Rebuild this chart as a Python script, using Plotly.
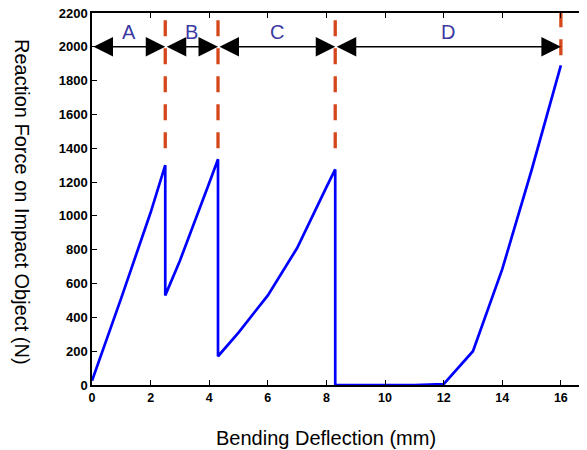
import plotly.graph_objects as go

# Force-deflection curve (mm, N)
deflection = [0, 1, 2, 2.5, 2.5, 3, 4, 4.3, 4.3, 5, 6, 7, 8, 8.3, 8.3, 9, 10, 11, 12, 13, 14, 15, 16]
force = [25, 515, 1020, 1300, 530, 735, 1195, 1335, 170, 310, 530, 810, 1170, 1275, 0, 0, 0, 0, 5, 200, 685, 1270, 1890]

# Stage boundaries, stage labels
bounds = [0, 2.5, 4.3, 8.3, 16]
stage_labels = ["A", "B", "C", "D"]
dash_x = [2.5, 4.3, 8.3, 16]
dash_bottom = [1400, 1400, 1400, 1950]
dash_top = 2200
arrow_y = 2000
label_y = 2085

x_ticks = [0, 2, 4, 6, 8, 10, 12, 14, 16]
y_ticks = list(range(0, 2201, 200))

x_title = "Bending Deflection (mm)"
y_title = "Reaction Force on Impact Object (N)"

FONT = "Liberation Sans, Arial, sans-serif"
RED = "#d5461a"
LABEL_COLOR = "#3a3aa2"

fig = go.Figure()

for xv, yb in zip(dash_x, dash_bottom):
    fig.add_trace(go.Scatter(
        x=[xv, xv], y=[yb, dash_top], mode="lines",
        line=dict(color=RED, width=3.3, dash="16px,12px"),
        showlegend=False, hoverinfo="skip"))

fig.add_trace(go.Scatter(
    x=deflection, y=force, mode="lines",
    line=dict(color="#0000ff", width=2.7),
    showlegend=False))

annotations = []
for i, lab in enumerate(stage_labels):
    x0, x1 = bounds[i], bounds[i + 1]
    annotations.append(dict(
        x=x1, y=arrow_y, ax=x0, ay=arrow_y,
        xref="x", yref="y", axref="x", ayref="y",
        text="", showarrow=True, arrowside="end+start",
        arrowhead=2, startarrowhead=2, arrowsize=2.6, startarrowsize=2.6,
        arrowwidth=1.5, arrowcolor="black", standoff=0, startstandoff=0))
    annotations.append(dict(
        x=(x0 + x1) / 2, y=label_y, xref="x", yref="y",
        text=lab, showarrow=False,
        font=dict(family=FONT, size=20, color=LABEL_COLOR)))

annotations.append(dict(
    x=0.4708, y=-0.1425, xref="paper", yref="paper",
    xanchor="center", yanchor="middle", text=x_title, showarrow=False,
    font=dict(family=FONT, size=20, color="black")))
annotations.append(dict(
    x=-0.1408, y=0.492, xref="paper", yref="paper",
    xanchor="center", yanchor="middle", text=y_title, showarrow=False,
    textangle=90, font=dict(family=FONT, size=20, color="black")))

fig.update_layout(
    width=581, height=442,
    margin=dict(l=84, r=0, t=5, b=65),
    paper_bgcolor="white", plot_bgcolor="white",
    font=dict(family=FONT, color="black"),
    annotations=annotations,
    xaxis=dict(
        range=[0, 16.96], tickvals=x_ticks, ticktext=[str(v) for v in x_ticks],
        ticks="inside", ticklen=5, tickwidth=1, tickcolor="black",
        showline=True, linecolor="black", linewidth=1.5, mirror="ticks",
        showgrid=False, zeroline=False, automargin=False,
        ticklabeloverflow="allow",
        tickfont=dict(family=FONT, size=12.5, color="black", weight="bold"),
    ),
    yaxis=dict(
        range=[0, 2200], tickvals=y_ticks, ticktext=[str(v) for v in y_ticks],
        ticks="inside", ticklen=5, tickwidth=1, tickcolor="black",
        showline=True, linecolor="black", linewidth=1.5, mirror=False,
        showgrid=False, zeroline=False, automargin=False,
        ticklabeloverflow="allow",
        tickfont=dict(family=FONT, size=13, color="black", weight="bold"),
    ),
    yaxis2=dict(
        range=[0, 2200], tickvals=y_ticks, overlaying="y", side="right",
        ticks="inside", ticklen=5, tickwidth=1, tickcolor="black",
        showline=False, showticklabels=False, showgrid=False, zeroline=False,
        automargin=False,
    ),
)

fig.write_html("out.html")
